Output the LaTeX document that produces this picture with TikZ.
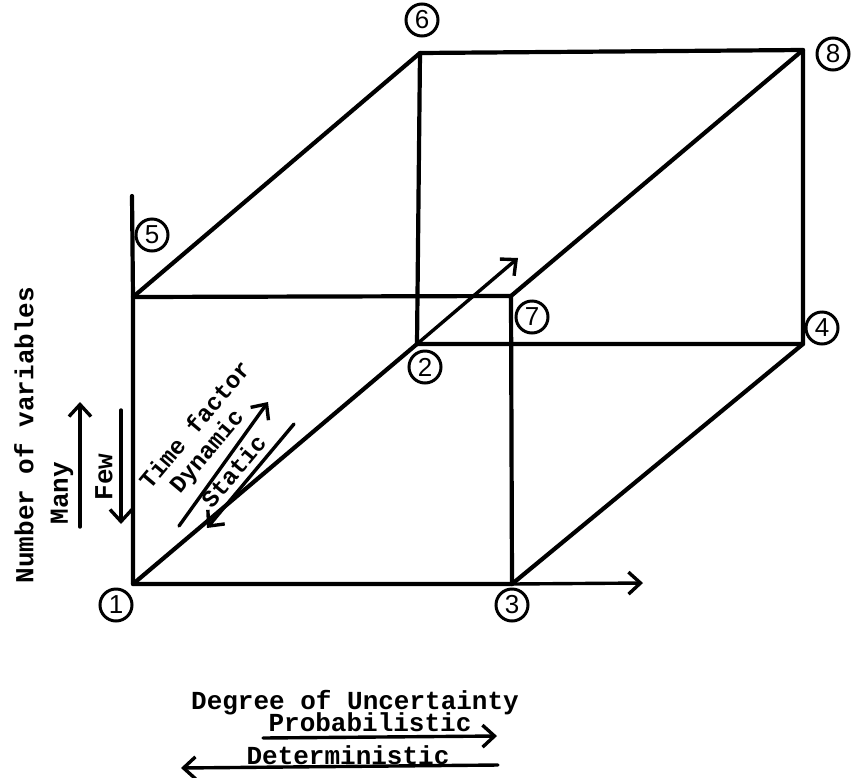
\documentclass[tikz,border=0pt]{standalone}
\usepackage{fontspec}
\setmonofont{Liberation Mono}
\setsansfont{Liberation Sans}
\usetikzlibrary{arrows.meta}
\begin{document}
\begin{tikzpicture}[x=1pt,y=-1pt,
  edge/.style={line width=4.2pt, line cap=round, line join=round},
  arr/.style={line width=3.4pt, line cap=round, -{Straight Barb[length=12pt,width=22pt]}},
  lbl/.style={font=\ttfamily\bfseries\fontsize{26}{30}\selectfont, inner sep=0pt},
  tlbl/.style={font=\ttfamily\bfseries\fontsize{24}{28}\selectfont, inner sep=0pt, rotate=50, anchor=base west},
  num/.style={circle, draw, line width=3pt, minimum size=32pt, inner sep=0pt, font=\sffamily\fontsize{26}{26}\selectfont}]
\useasboundingbox (0,0) rectangle (851,777);

% cube corners
\coordinate (p1) at (133,584);
\coordinate (p3) at (512,584);
\coordinate (p5) at (133,297);
\coordinate (top) at (132,196);
\coordinate (p7) at (511,296);
\coordinate (p2) at (417,344);
\coordinate (p6) at (420,53);
\coordinate (p8) at (803,50);
\coordinate (p4) at (803,344);
\coordinate (xend) at (643,583);
\coordinate (dend) at (518,258);

% back face
\draw[edge] (p2) -- (p6) -- (p8) -- (p4) -- (p2);
% front face
\draw[edge] (top) -- (p5) -- (p1) -- (p3);
\draw[edge] (p5) -- (p7) -- (p3);
% depth edges
\draw[edge] (p5) -- (p6);
\draw[edge] (p7) -- (p8);
\draw[edge] (p3) -- (p4);
\draw[edge] (p1) -- (p2);
% axis arrows
\draw[edge, arr] (p3) -- (xend);
\draw[edge, arr] (p2) -- (dend);

% circled numbers
\node[num] (n1) at (116,605) {1};
\node[num] (n2) at (425,367) {2};
\node[num] (n3) at (512,605) {3};
\node[num] (n4) at (822,328) {4};
\node[num] (n5) at (152,235) {5};
\node[num] (n6) at (422,20) {6};
\node[num] (n7) at (532,317) {7};
\node[num] (n8) at (833,54) {8};

% left axis labels
\node[lbl, rotate=90] (nv) at (24,435) {Number of variables};
\node[lbl, rotate=90] (many) at (62,493) {Many};
\node[lbl, rotate=90] (few) at (104,477) {Few};
\coordinate (ma) at (80,527);
\coordinate (mb) at (80,402);
\coordinate (fa) at (121,410);
\coordinate (fb) at (121,524);
\draw[arr] (ma) -- (mb);
\draw[arr] (fa) -- (fb);

% time factor labels
\node[tlbl] (tf) at (150,491) {Time factor};
\node[tlbl] (dyn) at (180,495) {Dynamic};
\node[tlbl] (stat) at (212,510) {Static};
\coordinate (da) at (179,526);
\coordinate (db) at (268,402);
\coordinate (sa) at (294,424);
\coordinate (sb) at (207,528);
\draw[arr] (da) -- (db);
\draw[arr] (sa) -- (sb);

% bottom labels
\node[lbl] (deg) at (355,703) {Degree of Uncertainty};
\node[lbl] (prob) at (370,722) {Probabilistic};
\node[lbl] (det) at (348,755) {Deterministic};
\coordinate (pa) at (263,738);
\coordinate (pb) at (497,736);
\coordinate (qa) at (498,765);
\coordinate (qb) at (181,768);
\draw[arr] (pa) -- (pb);
\draw[arr] (qa) -- (qb);
\end{tikzpicture}
\end{document}
